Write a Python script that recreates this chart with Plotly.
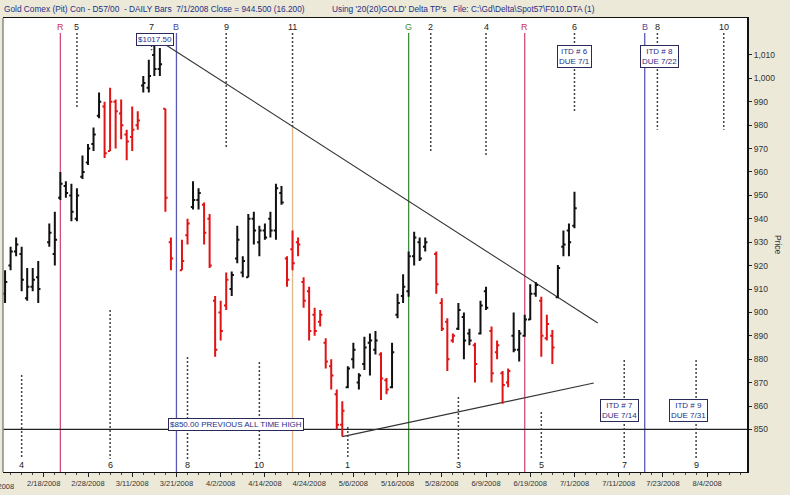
import pandas as pd
import plotly.graph_objects as go

# ---------------- data ----------------
dates = ["2008-02-07","2008-02-08","2008-02-11","2008-02-12","2008-02-13","2008-02-14","2008-02-15",
         "2008-02-19","2008-02-20","2008-02-21","2008-02-22","2008-02-25","2008-02-26","2008-02-27",
         "2008-02-28","2008-02-29","2008-03-03","2008-03-04","2008-03-05","2008-03-06","2008-03-07",
         "2008-03-10","2008-03-11","2008-03-12","2008-03-13","2008-03-14","2008-03-17","2008-03-18",
         "2008-03-19","2008-03-20","2008-03-24","2008-03-25","2008-03-26","2008-03-27","2008-03-28",
         "2008-03-31","2008-04-01","2008-04-02","2008-04-03","2008-04-04","2008-04-07","2008-04-08",
         "2008-04-09","2008-04-10","2008-04-11","2008-04-14","2008-04-15","2008-04-16","2008-04-17",
         "2008-04-18","2008-04-21","2008-04-22","2008-04-23","2008-04-24","2008-04-25","2008-04-28",
         "2008-04-29","2008-04-30","2008-05-01","2008-05-02","2008-05-05","2008-05-06","2008-05-07",
         "2008-05-08","2008-05-09","2008-05-12","2008-05-13","2008-05-14","2008-05-15","2008-05-16",
         "2008-05-19","2008-05-20","2008-05-21","2008-05-22","2008-05-23","2008-05-27","2008-05-28",
         "2008-05-29","2008-05-30","2008-06-02","2008-06-03","2008-06-04","2008-06-05","2008-06-06",
         "2008-06-09","2008-06-10","2008-06-11","2008-06-12","2008-06-13","2008-06-16","2008-06-17",
         "2008-06-18","2008-06-19","2008-06-20","2008-06-23","2008-06-24","2008-06-25","2008-06-26",
         "2008-06-27","2008-06-30","2008-07-01"]
opens = [908,920,926,925,906,911,915,
         930,925,949,954,950,940,958,
         964,972,984,988,969,990,985,
         976,975,980,997,996,1010,1004,
         987,930,918,933,945,948,946,
         940,905,900,903,910,923,917,
         915,940,930,935,940,935,951,
         923,927,930,913,909,899,896,
         887,877,865,852,868,880,870,
         878,887,884,882,871,868,899,
         907,909,924,930,928,925,904,
         896,888,893,898,891,886,891,
         909,892,883,874,870,890,884,
         890,897,908,905,889,890,906.5,
         928,935,937]
highs = [918,928,932,928,919,919,922,
         938,943,960,956,955,953,967,
         972,979,994,990,996,991,991,
         978,988,986,1001,1008,1017.5,1013,
         987,932,931,940,956,953,947,
         942,907,905,917,917.5,937,924,
         942,943,937,938,943,955,954,
         924,935,932,915,911,902,901,
         889,880,867,862,877,887,874,
         889.6,891,892,883,872,887,908,
         916.3,926,934.5,932,932,926,906,
         897.5,891,904,900,893,887,905,
         911,894,888,875,876,900,892.5,
         899,912,913,906.7,899,892.5,920.3,
         935,938,951.6]
lows = [904,918,924,909,905,909,904,
        928,920,948,949,939,939,957,
        963,969,983,966,969,970,974,
        965,969,978,994,994,1001,1001,
        943,918,918,929,944,944,929,
        919,881,888,901,907,921,915,
        915,929,924,931,932,931,946,
        911,918,924,902,888,890,894,
        876,867,850,847,867.6,876,867,
        875.4,873,882,862.6,865,867.6,897.5,
        904,906.7,920,922,926,908,892,
        875,887,892.5,880,886,870,890.6,
        901,870,880,861,868,883,879,
        889.6,896.7,906.7,881,888,878,906,
        924,924,936]
closes = [913,926,929,914,911,914,910,
          934,931,955,951,943,950,960,
          970,976,990,968,990,986,980,
          973,978,982,998,1001,1004,1006,
          949,923,922,938,948,951,934,
          920,884,892,914,916,931,922,
          940,935,935,932,935,953,947,
          914,921,929,905,892,892,899,
          879,873,852,858,876,884,873,
          885,888,888,871.8,867,883,904,
          911,924,932,923,930,912,893,
          880,890,901,888,888,878,903,
          902,874,886,869,875,884,891,
          897,908,911.7,890,895,885,919,
          929,930,944.5]
bar_color = list("kkkkkkk" "kkkkkkk" "kkkrrrr" "rrrkkkk" "rrrrkkr"
                 "rrrrkkk" "kkkkkkk" "rrrrrrr" "rrrrkkk" "kkkrrkk"
                 "kkkkkrr" "rrkkkrk" "krrrrkk" "kkkrrrk" "kkk")

tick_labels = ["2/18/2008","2/28/2008","3/11/2008","3/21/2008","4/2/2008","4/14/2008",
               "4/24/2008","5/6/2008","5/16/2008","5/28/2008","6/9/2008","6/19/2008",
               "7/1/2008","7/11/2008","7/23/2008","8/4/2008"]
price_ticks = [850, 860, 870, 880, 890, 900, 910, 920, 930, 940, 950, 960, 970, 980, 990, 1000, 1010]

# ---------------- overlay definitions ----------------
Y_MIN, Y_MAX = 831.8, 1025.8
X_RANGE = ["2008-02-06 15:00", "2008-08-13 05:00"]
RED_L, BLUE_L, GREEN_L, TAN_L = "#D0507A", "#5A5AB4", "#3C8C3C", "#E0B888"

v_lines = [("2008-02-21", RED_L, "R", "#CC3344"),
           ("2008-03-21", BLUE_L, "B", "#4A4A9A"),
           ("2008-05-20", GREEN_L, "G", "#3C8C3C"),
           ("2008-06-18", RED_L, "R", "#CC3344"),
           ("2008-07-17 17:00", BLUE_L, "B", "#4A4A9A")]
top_cycles = [("5", "2008-02-26", 987.4), ("7", "2008-03-14 12:00", 1012), ("9", "2008-04-03", 969.8),
              ("11", "2008-04-21", 979.4), ("2", "2008-05-26", 969), ("4", "2008-06-09", 966.4),
              ("6", "2008-07-01", 985.6), ("8", "2008-07-22", 978), ("10", "2008-08-07", 978)]
bottom_cycles = [("4", "2008-02-12", 873.2), ("6", "2008-03-05", 901), ("8", "2008-03-25", 880.9),
                 ("10", "2008-04-11", 878.8), ("1", "2008-05-05", 851), ("3", "2008-06-02", 863.8),
                 ("5", "2008-06-23", 857.4), ("7", "2008-07-14", 879.7), ("9", "2008-07-31", 879.7)]
down_trend = (("2008-03-17", 1017.5), ("2008-07-07 05:00", 895.5))
up_trend = (("2008-05-02", 846.9), ("2008-07-04 12:00", 869.8))
boxes = [("$1017.50", "2008-03-17 03:00", 1016.8),
         ("$850.00 PREVIOUS ALL TIME HIGH", "2008-04-04 19:00", 852.3),
         ("ITD # 6<br>DUE 7/1", "2008-07-01", 1009.4),
         ("ITD # 8<br>DUE 7/22", "2008-07-22 10:00", 1009.4),
         ("ITD # 7<br>DUE 7/14", "2008-07-11 05:00", 857.9),
         ("ITD # 9<br>DUE 7/31", "2008-07-29 17:00", 857.9)]

FONT = "Liberation Sans, Arial, sans-serif"
NAVY = "#1F2F86"

fig = go.Figure()
for flag, col in (("k", "#111111"), ("r", "#E01414")):
    idx = [i for i, c in enumerate(bar_color) if c == flag]
    fig.add_trace(go.Ohlc(
        x=[dates[i] for i in idx], open=[opens[i] for i in idx], high=[highs[i] for i in idx],
        low=[lows[i] for i in idx], close=[closes[i] for i in idx],
        increasing=dict(line=dict(color=col, width=2)),
        decreasing=dict(line=dict(color=col, width=2)),
        tickwidth=0.4, hoverinfo="skip", showlegend=False))

shapes = []
annotations = []
TOP_PAPER = 0.967
LBL_TOP, LBL_BOT = 0.980, 0.0154
for xd, col, lab, tcol in v_lines:
    shapes.append(dict(type="line", xref="x", yref="paper", x0=xd, x1=xd, y0=0, y1=TOP_PAPER,
                       line=dict(color=col, width=1.3), layer="below"))
    annotations.append(dict(text=lab, x=xd, xref="x", y=LBL_TOP, yref="paper", showarrow=False,
                            xanchor="center", yanchor="middle",
                            font=dict(family=FONT, size=9, color=tcol)))
# tan line from the down trend to the bottom
shapes.append(dict(type="line", xref="x", yref="y", x0="2008-04-21", x1="2008-04-21",
                   y0=Y_MIN, y1=979.4, line=dict(color=TAN_L, width=1.3), layer="below"))
for lab, xd, yend in top_cycles:
    shapes.append(dict(type="line", xref="x", yref="y", x0=xd, x1=xd, y0=1019.4, y1=yend,
                       line=dict(color="#444444", width=1.5, dash="2px,2px"), layer="below"))
    annotations.append(dict(text=lab, x=xd, xref="x", y=LBL_TOP, yref="paper", showarrow=False,
                            xanchor="center", yanchor="middle",
                            font=dict(family=FONT, size=9, color="#222222")))
for lab, xd, ystart in bottom_cycles:
    shapes.append(dict(type="line", xref="x", yref="y", x0=xd, x1=xd, y0=ystart, y1=837.4,
                       line=dict(color="#444444", width=1.5, dash="2px,2px"), layer="below"))
    annotations.append(dict(text=lab, x=xd, xref="x", y=LBL_BOT, yref="paper", showarrow=False,
                            xanchor="center", yanchor="middle",
                            font=dict(family=FONT, size=9, color="#222222")))
for (a, b) in (down_trend, up_trend):
    shapes.append(dict(type="line", xref="x", yref="y", x0=a[0], y0=a[1], x1=b[0], y1=b[1],
                       line=dict(color="#333333", width=1.1), layer="below"))
shapes.append(dict(type="line", xref="paper", yref="y", x0=0, x1=1, y0=850, y1=850,
                   line=dict(color="#222222", width=1.1), layer="below"))
shapes.append(dict(type="line", xref="paper", yref="paper", x0=0, x1=0, y0=0, y1=1,
                   line=dict(color="#8A8A8A", width=1.5)))
for txt, xd, yv in boxes:
    annotations.append(dict(text=txt, x=xd, xref="x", y=yv, yref="y", showarrow=False,
                            xanchor="center", yanchor="middle",
                            bgcolor="white", bordercolor="#2A2A5A", borderwidth=1, borderpad=1,
                            font=dict(family=FONT, size=8, color=NAVY)))

# header and side texts
HDR_Y = 1.0198
annotations += [
    dict(text="Gold Comex (Pit) Con - D57/00  - DAILY Bars  7/1/2008 Close = 944.500 (16.200)",
         x=-0.002, xref="paper", y=HDR_Y, yref="paper", xanchor="left", yanchor="middle",
         showarrow=False, font=dict(family=FONT, size=8.3, color=NAVY)),
    dict(text="Using '20(20)GOLD' Delta TP's", x=0.4395, xref="paper", y=HDR_Y, yref="paper",
         xanchor="left", yanchor="middle", showarrow=False,
         font=dict(family=FONT, size=8.3, color=NAVY)),
    dict(text="File: C:\\Gd\\Delta\\Spot57\\F010.DTA (1)", x=0.602, xref="paper", y=HDR_Y,
         yref="paper", xanchor="left", yanchor="middle", showarrow=False,
         font=dict(family=FONT, size=8.3, color=NAVY)),
    dict(text="Price", x=1.0417, xref="paper", y=0.5, yref="paper", textangle=90,
         xanchor="center", yanchor="middle", showarrow=False,
         font=dict(family=FONT, size=8.5, color="#333333")),
    dict(text="2/6/2008", x=-0.0045, xref="paper", y=-0.018, yref="paper",
         xanchor="center", yanchor="top", showarrow=False,
         font=dict(family=FONT, size=7.5, color="#333333")),
]

minor_ticks = list(pd.bdate_range("2008-02-08", "2008-08-12", freq="2B"))

fig.update_layout(
    width=790, height=495,
    margin=dict(l=3, r=43, t=18, b=23),
    paper_bgcolor="#ECE9D8", plot_bgcolor="white",
    shapes=shapes, annotations=annotations,
    font=dict(family=FONT, size=8, color="#333333"),
)
fig.update_xaxes(
    type="date", range=X_RANGE, rangebreaks=[dict(bounds=["sat", "mon"])],
    rangeslider=dict(visible=False),
    tickmode="array", tickvals=list(pd.to_datetime(tick_labels, format="%m/%d/%Y")),
    ticktext=tick_labels, ticks="outside", ticklen=4, tickcolor="#222",
    minor=dict(tickmode="array", tickvals=minor_ticks, ticks="outside", ticklen=2,
               tickcolor="#444", showgrid=False),
    tickfont=dict(family=FONT, size=7.5, color="#333333"),
    showgrid=False, zeroline=False, showline=True, linecolor="#111", linewidth=1, mirror=True,
)
fig.update_yaxes(
    side="right", range=[Y_MIN, Y_MAX], tickmode="array", tickvals=price_ticks,
    tickformat=",d", ticks="outside", ticklen=3, tickcolor="#222",
    tickfont=dict(family=FONT, size=8.5, color="#333333"),
    showgrid=False, zeroline=False, showline=True, linecolor="#111", linewidth=2,
)

fig.write_html("out.html", config={"displayModeBar": False},
               post_script="document.body.style.margin='0';")
